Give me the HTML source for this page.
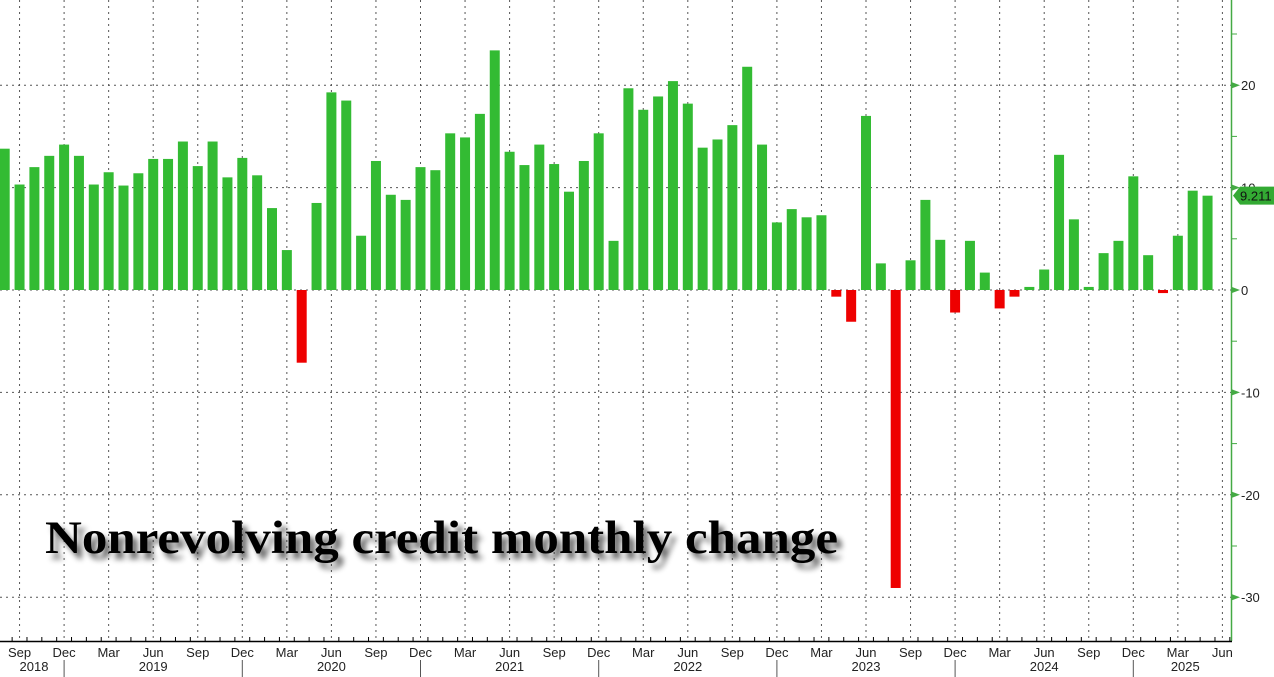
<!DOCTYPE html>
<html><head><meta charset="utf-8">
<style>
html,body{margin:0;padding:0;background:#fff;}
svg{display:block;}
</style></head>
<body>
<svg id="c" xmlns="http://www.w3.org/2000/svg" width="1274" height="677" viewBox="0 0 1274 677">
<defs>
<filter id="sh" x="-10%" y="-30%" width="120%" height="160%">
<feGaussianBlur in="SourceAlpha" stdDeviation="3"/>
<feOffset dx="5" dy="6" result="b"/>
<feComponentTransfer><feFuncA type="linear" slope="0.6"/></feComponentTransfer>
<feMerge><feMergeNode/><feMergeNode in="SourceGraphic"/></feMerge>
</filter>
</defs>
<g id="grid"></g>
<g id="bars"></g>
<g id="axes"></g>
<text x="45" y="553" font-family="Liberation Serif, serif" font-weight="bold" font-size="47" fill="#000" textLength="793" lengthAdjust="spacingAndGlyphs" filter="url(#sh)">Nonrevolving credit monthly change</text>
</svg>
<script>
var v=[13.8,10.3,12.0,13.1,14.2,13.1,10.3,11.5,10.2,11.4,12.8,12.8,14.5,12.1,14.5,11.0,12.9,11.2,8.0,3.9,-7.1,8.5,19.3,18.5,5.3,12.6,9.3,8.8,12.0,11.7,15.3,14.9,17.2,23.4,13.5,12.2,14.2,12.3,9.6,12.6,15.3,4.8,19.7,17.6,18.9,20.4,18.2,13.9,14.7,16.1,21.8,14.2,6.6,7.9,7.1,7.3,-0.65,-3.1,17.0,2.6,-29.1,2.9,8.8,4.9,-2.2,4.8,1.7,-1.8,-0.65,0.3,2.0,13.2,6.9,0.3,3.6,4.8,11.1,3.4,-0.3,5.3,9.7,9.211];
var NS="http://www.w3.org/2000/svg";
function el(p,t,a,txt){var e=document.createElementNS(NS,t);for(var k in a)e.setAttribute(k,a[k]);if(txt!==undefined)e.textContent=txt;document.getElementById(p).appendChild(e);return e;}
var X0=4.7,DX=14.85,Y0=290,S=10.24;
function X(i){return X0+i*DX;}
function Y(val){return Y0-val*S;}
// horizontal grid
[20,10,0,-10,-20,-30].forEach(function(g){el("grid","line",{x1:0,x2:1231,y1:Y(g),y2:Y(g),stroke:"#555","stroke-width":1,"stroke-dasharray":"2,4"});});
// vertical grid
for(var i=1;i<=82;i+=3){el("grid","line",{x1:X(i),x2:X(i),y1:0,y2:641,stroke:"#555","stroke-width":1,"stroke-dasharray":"2,4"});}
// bars
v.forEach(function(val,i){var y=val>=0?Y(val):Y0;var h=Math.abs(val)*S;el("bars","rect",{x:X(i)-5,y:y,width:10,height:Math.max(h,1),fill:val>=0?"#33bb33":"#ee0000"});});
// right axis
el("axes","line",{x1:1231.5,x2:1231.5,y1:0,y2:641,stroke:"#44aa44","stroke-width":1.5});
for(var g=-30;g<=25;g+=5){var yy=Y(g);
 if(g%10===0){el("axes","path",{d:"M1232 "+(yy-3)+" L1240 "+yy+" L1232 "+(yy+3)+"Z",fill:"#44aa44"});
  el("axes","text",{x:1241,y:yy+5,"font-family":"Liberation Sans, sans-serif","font-size":13,fill:"#222"},String(g));}
 else el("axes","line",{x1:1232,x2:1237,y1:yy,y2:yy,stroke:"#44aa44","stroke-width":1});}
// last value tag
var ly=Y(9.211);
el("axes","path",{d:"M1233 "+ly+" L1240 "+(ly-9)+" L1274 "+(ly-9)+" L1274 "+(ly+9)+" L1240 "+(ly+9)+"Z",fill:"#33aa33"});
el("axes","text",{x:1240,y:ly+5,"font-family":"Liberation Sans, sans-serif","font-size":13,fill:"#111"},"9.211");
// bottom axis
el("axes","line",{x1:0,x2:1232,y1:641.5,y2:641.5,stroke:"#000","stroke-width":1.5});
for(var i=0;i<=83;i++){el("axes","line",{x1:X(i)-DX/2,x2:X(i)-DX/2,y1:637,y2:641,stroke:"#000","stroke-width":1});}
var mn=["Sep","Dec","Mar","Jun"];
for(var i=1,k=0;i<=82;i+=3,k++){el("axes","text",{x:X(i),y:657,"text-anchor":"middle","font-family":"Liberation Sans, sans-serif","font-size":13,fill:"#222"},mn[k%4]);}
// year separators at Dec
for(var i=4;i<=82;i+=12){el("axes","line",{x1:X(i),x2:X(i),y1:660,y2:677,stroke:"#555","stroke-width":1});}
var yrs=[[1,"2018"],[10,"2019"],[22,"2020"],[34,"2021"],[46,"2022"],[58,"2023"],[70,"2024"],[79.5,"2025"]];
yrs.forEach(function(p){var x=p[0]==1?34:X(p[0]);el("axes","text",{x:x,y:671,"text-anchor":"middle","font-family":"Liberation Sans, sans-serif","font-size":13,fill:"#222"},p[1]);});
</script>
</body></html>
